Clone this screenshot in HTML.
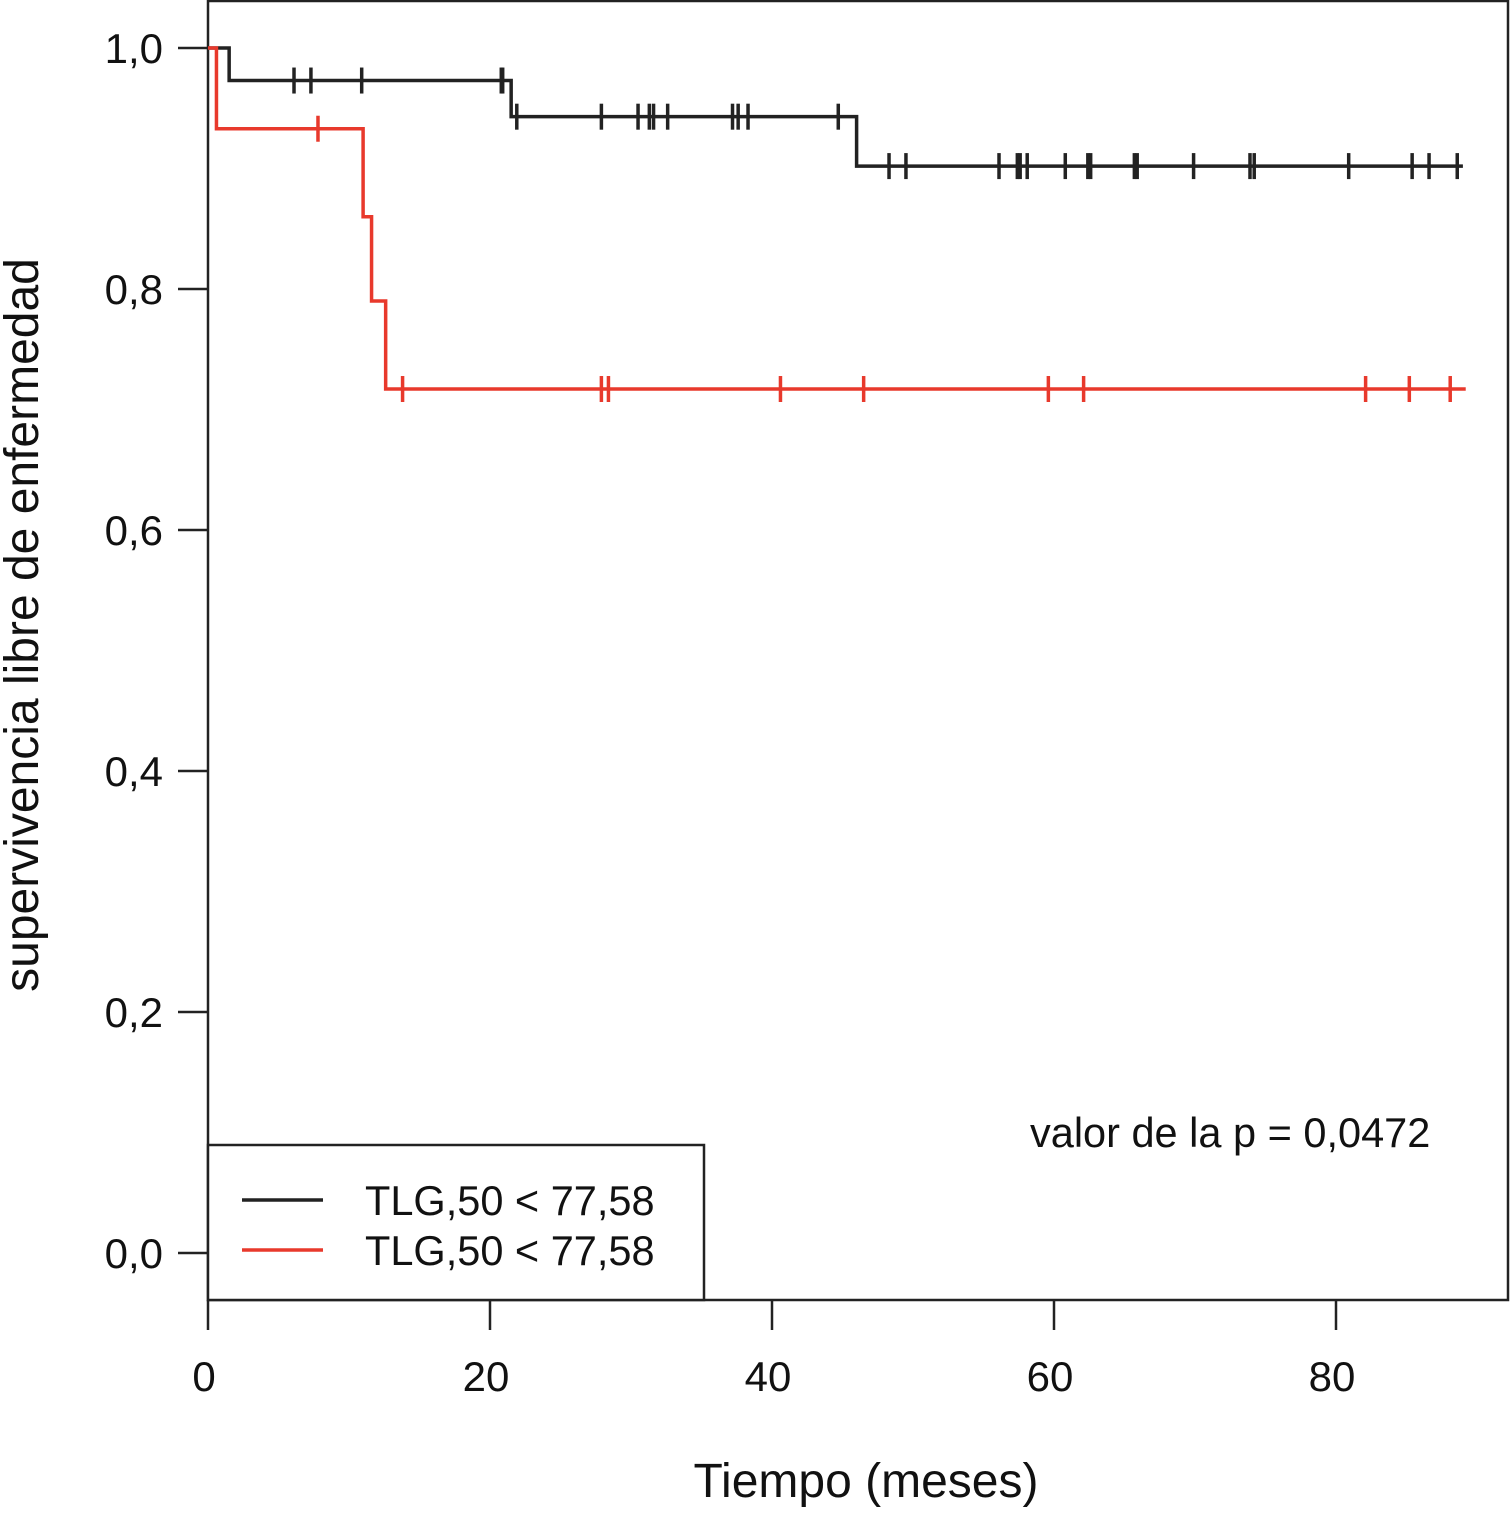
<!DOCTYPE html>
<html><head><meta charset="utf-8"><style>
body{margin:0;background:#fff;}
svg text{font-family:"Liberation Sans",Arial,sans-serif;fill:#111;}
</style></head><body>
<svg id="chart" width="1510" height="1508" viewBox="0 0 1510 1508" xmlns="http://www.w3.org/2000/svg"></svg>
<script>
const xTicks=[0,20,40,60,80];
const yTicks=[0,0.2,0.4,0.6,0.8,1.0];
const yTickLabels=["0,0","0,2","0,4","0,6","0,8","1,0"];
const blackTimes=[0,1.5,21.5,46.0];
const blackSurv=[1.0,0.973,0.943,0.902];
const blackEnd=89.0;
const blackCensor=[6.1,7.3,10.9,20.8,20.9,21.9,27.9,30.5,31.3,31.6,32.6,37.2,37.6,38.3,44.7,48.3,49.5,56.1,57.4,57.6,58.1,60.8,62.4,62.6,65.7,65.9,69.9,73.9,74.2,80.9,85.4,86.6,88.6];
const redTimes=[0,0.6,11.0,11.6,12.6];
const redSurv=[1.0,0.933,0.86,0.79,0.717];
const redEnd=89.2;
const redCensor=[7.8,13.8,27.9,28.4,40.6,46.5,59.6,62.1,82.1,85.2,88.1];

const X0=208,PX=14.1,Y0=1253,PY=1205;
const sx=m=>X0+m*PX, sy=s=>Y0-s*PY;
const svg=document.getElementById('chart');
const NS='http://www.w3.org/2000/svg';
function mk(tag,attrs,parent){const e=document.createElementNS(NS,tag);for(const k in attrs)e.setAttribute(k,attrs[k]);(parent||svg).appendChild(e);return e;}

const frame=mk('rect',{x:208,y:1,width:1300,height:1299,fill:'none',stroke:'#222','stroke-width':2.5});



xTicks.forEach(v=>{
  const t=mk('line',{x1:sx(v),x2:sx(v),y1:1300,y2:1330,stroke:'#222','stroke-width':2.5});
  
  
  const l=mk('text',{x:sx(v)-4,y:1391,'font-size':42,'text-anchor':'middle'});l.textContent=v;
  
  
});
yTicks.forEach((v,i)=>{
  const t=mk('line',{x1:178,x2:208,y1:sy(v),y2:sy(v),stroke:'#222','stroke-width':2.5});
  
  
  const l=mk('text',{x:163,y:sy(v)+15,'font-size':42,'text-anchor':'end'});l.textContent=yTickLabels[i];
  
  
});

function series(times,surv,end,censor,color,name){
  let d='M'+sx(times[0])+','+sy(surv[0]);
  for(let i=1;i<times.length;i++){d+=' H'+sx(times[i])+' V'+sy(surv[i]);}
  d+=' H'+sx(end);
  const p=mk('path',{d:d,fill:'none',stroke:color,'stroke-width':3.5});
  
  
  censor.forEach(c=>{
    let s=surv[0];for(let i=0;i<times.length;i++)if(c>=times[i])s=surv[i];
    const t=mk('line',{x1:sx(c),x2:sx(c),y1:sy(s)-13,y2:sy(s)+13,stroke:color,'stroke-width':3.5});
    
    
  });
}
series(blackTimes,blackSurv,blackEnd,blackCensor,'#222','black-series');
series(redTimes,redSurv,redEnd,redCensor,'#e8392c','red-series');

const lg=mk('g',{});


mk('rect',{x:208,y:1145,width:496,height:155,fill:'#fff',stroke:'#222','stroke-width':2.5},lg);
[['#222',1200,'legend-entry-black'],['#e8392c',1250,'legend-entry-red']].forEach(e=>{
  const g=mk('g',{},lg);
  
  
  mk('line',{x1:242,x2:323,y1:e[1],y2:e[1],stroke:e[0],'stroke-width':3.5},g);
  const t=mk('text',{x:365,y:e[1]+15,'font-size':41.5},g);t.textContent='TLG,50 < 77,58';
});

const pv=mk('text',{x:1030,y:1147,'font-size':41.5});pv.textContent='valor de la p = 0,0472';


const xt=mk('text',{x:866,y:1497,'font-size':48,'text-anchor':'middle'});xt.textContent='Tiempo (meses)';


const yt=mk('text',{x:0,y:0,'font-size':48,'text-anchor':'middle',transform:'translate(38,625) rotate(-90)'});yt.textContent='supervivencia libre de enfermedad';


</script>
</body></html>
